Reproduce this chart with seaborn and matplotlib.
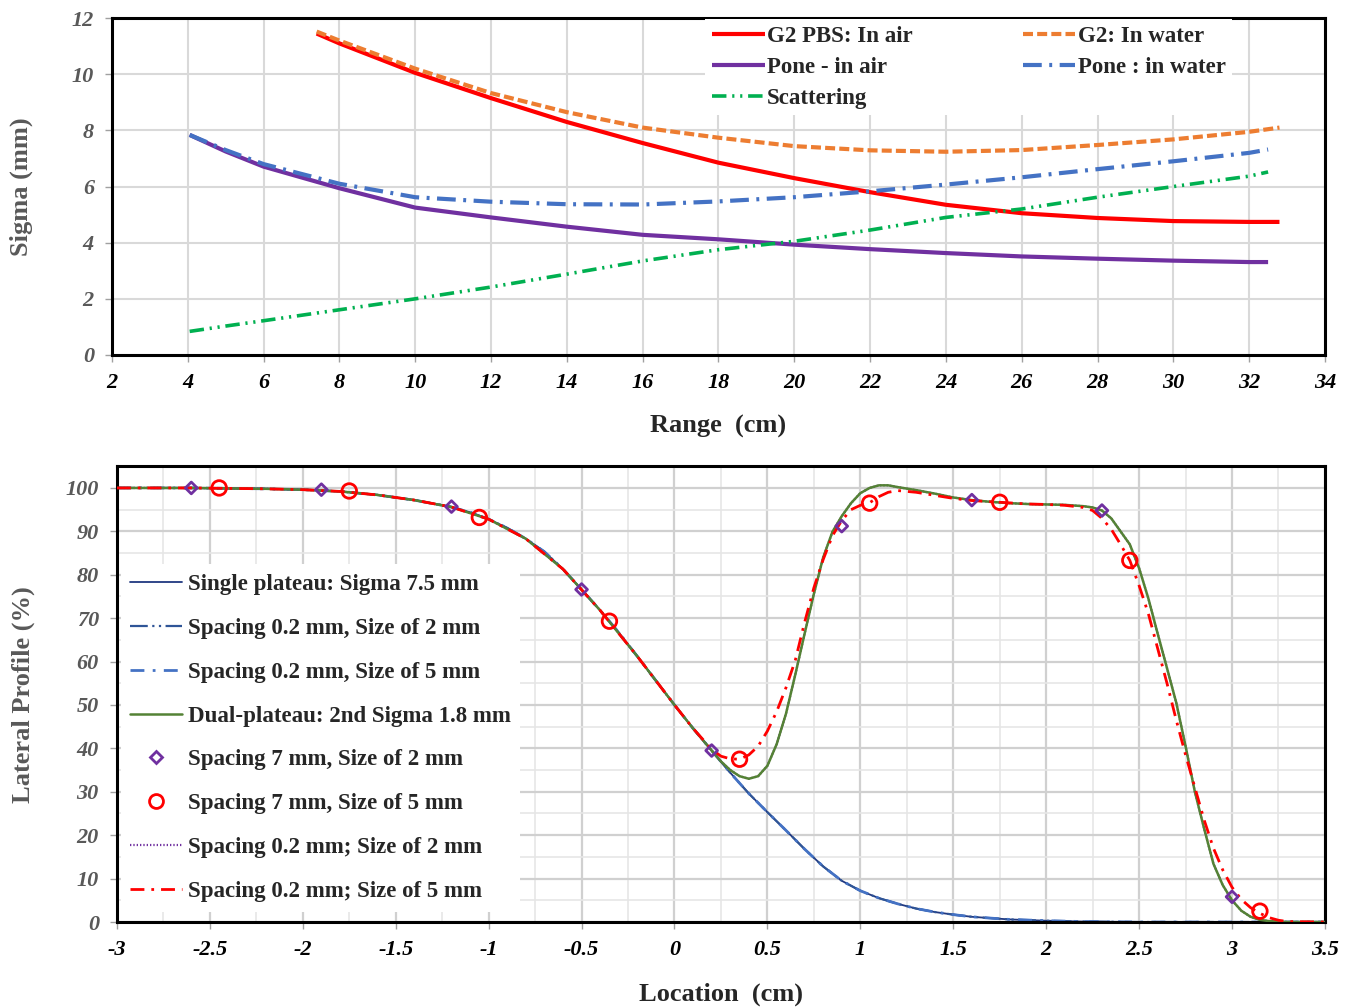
import numpy as np
import pandas as pd
import matplotlib
matplotlib.use("Agg")
import matplotlib.pyplot as plt
from matplotlib.ticker import MultipleLocator, FuncFormatter
from matplotlib.lines import Line2D
import seaborn as sns

# ---- top panel: sigma vs range ----
g2_x = [7.4, 8, 10, 12, 14, 16, 18, 20, 22, 24, 26, 28, 30, 32, 32.8]
g2_air = [11.45, 11.1, 10.05, 9.15, 8.3, 7.55, 6.85, 6.3, 5.8, 5.35, 5.05, 4.88, 4.77, 4.74, 4.74]
g2_water = [11.52, 11.2, 10.2, 9.33, 8.65, 8.1, 7.74, 7.44, 7.29, 7.24, 7.3, 7.48, 7.68, 7.95, 8.1]
pone_x = [4.05, 5, 6, 8, 10, 12, 14, 16, 18, 20, 22, 24, 26, 28, 30, 32, 32.5]
pone_air = [7.84, 7.25, 6.71, 5.94, 5.25, 4.9, 4.57, 4.28, 4.12, 3.93, 3.77, 3.63, 3.51, 3.43, 3.36, 3.31, 3.31]
pone_water = [7.84, 7.3, 6.8, 6.1, 5.62, 5.46, 5.37, 5.36, 5.47, 5.62, 5.83, 6.07, 6.33, 6.62, 6.9, 7.2, 7.32]
scattering = [0.84, 1.03, 1.22, 1.61, 2.0, 2.42, 2.88, 3.35, 3.75, 4.05, 4.45, 4.9, 5.2, 5.62, 6.0, 6.37, 6.52]

# ---- bottom panel: lateral profiles ----
single_x = [-3.0, -2.8, -2.6, -2.4, -2.2, -2.0, -1.8, -1.6, -1.4, -1.2, -1.1, -1.0, -0.9, -0.8,
            -0.7, -0.6, -0.5, -0.4, -0.3, -0.2, -0.1, 0.0, 0.1, 0.2, 0.3, 0.4, 0.5, 0.6, 0.7,
            0.8, 0.9, 1.0, 1.1, 1.2, 1.3, 1.4, 1.5, 1.6, 1.8, 2.0, 2.2, 2.5, 3.0, 3.5]
single_y = [100, 100, 100, 99.9, 99.8, 99.6, 99.2, 98.4, 97.2, 95.6, 94.4, 92.8, 90.8, 88.3,
            85.3, 81.3, 76.6, 71.8, 66.7, 61.2, 55.6, 50.0, 44.6, 39.5, 34.4, 29.6, 25.3, 21.1, 16.8,
            12.8, 9.5, 7.2, 5.5, 4.2, 3.1, 2.3, 1.7, 1.2, 0.6, 0.3, 0.1, 0.0, 0.0, 0.0]

dual_x = [-3.0, -2.6, -2.2, -2.0, -1.8, -1.6, -1.4, -1.2, -1.0, -0.8, -0.6, -0.4, -0.2, 0.0,
          0.1, 0.2, 0.25, 0.3, 0.35, 0.4, 0.45, 0.5, 0.55, 0.6, 0.65, 0.7, 0.75, 0.8, 0.85,
          0.9, 0.95, 1.0, 1.05, 1.1, 1.15, 1.2, 1.3, 1.4, 1.5, 1.6, 1.7, 1.8, 1.9, 2.0, 2.1,
          2.2, 2.25, 2.3, 2.35, 2.4, 2.45, 2.5, 2.55, 2.6, 2.65, 2.7, 2.75, 2.8, 2.85, 2.9,
          2.95, 3.0, 3.05, 3.1, 3.15, 3.2, 3.3, 3.5]
dual_y = [100, 100, 99.8, 99.6, 99.2, 98.4, 97.2, 95.6, 92.8, 88.3, 81.3, 71.8, 61.2, 50.0,
          44.6, 39.5, 37.0, 35.0, 33.6, 33.0, 33.6, 36.0, 41.0, 48.0, 57.0, 66.4, 75.6, 84.0, 89.9,
          93.5, 96.5, 98.8, 100.0, 100.6, 100.6, 100.2, 99.5, 98.7, 97.8, 97.2, 96.8, 96.5, 96.3, 96.2, 96.1,
          95.8, 95.5, 94.8, 93.0, 90.0, 87.0, 81.5, 74.5, 66.4, 58.5, 50.5, 40.5, 30.0, 21.5, 13.4,
          8.5, 5.0, 2.6, 1.2, 0.5, 0.2, 0.0, 0.0]

red5_x = [-3.0, -2.6, -2.2, -2.0, -1.8, -1.6, -1.4, -1.2, -1.0, -0.8, -0.6, -0.4, -0.2, 0.0,
          0.1, 0.2, 0.25, 0.3, 0.35, 0.4, 0.45, 0.5, 0.55, 0.6, 0.65, 0.7, 0.75, 0.8, 0.85,
          0.9, 0.95, 1.0, 1.05, 1.1, 1.15, 1.2, 1.3, 1.4, 1.5, 1.6, 1.75, 1.9, 2.0, 2.1, 2.2,
          2.25, 2.3, 2.35, 2.4, 2.45, 2.5, 2.55, 2.6, 2.65, 2.7, 2.75, 2.8, 2.85, 2.9, 2.95,
          3.0, 3.05, 3.1, 3.15, 3.2, 3.25, 3.3, 3.5]
red5_y = [100, 100, 99.8, 99.6, 99.2, 98.4, 97.2, 95.6, 92.8, 88.3, 81.3, 71.8, 61.2, 50.0,
          44.6, 39.8, 38.2, 37.6, 37.5, 38.5, 40.5, 44.0, 48.5, 54.0, 60.3, 69.0, 77.0, 83.5, 89.0,
          92.5, 95.0, 96.0, 96.6, 98.0, 99.0, 99.4, 99.0, 98.3, 97.6, 97.1, 96.7, 96.3, 96.2, 96.0, 95.5,
          94.8, 93.0, 90.5, 87.0, 83.3, 77.5, 71.0, 63.0, 55.0, 46.5, 38.5, 31.0, 23.5, 17.0, 12.0,
          8.0, 5.2, 3.3, 2.0, 1.0, 0.4, 0.1, 0.0]

diam_x = [-2.6, -1.9, -1.2, -0.5, 0.2, 0.9, 1.6, 2.3, 3.0]
diam_y = [100, 99.6, 95.7, 76.6, 39.5, 91.2, 97.2, 94.8, 5.8]
circ_x = [-2.45, -1.75, -1.05, -0.35, 0.35, 1.05, 1.75, 2.45, 3.15]
circ_y = [100, 99.3, 93.2, 69.3, 37.5, 96.5, 96.7, 83.3, 2.5]

sns.set_style("white")
plt.rcParams['font.family'] = ['Liberation Serif', 'DejaVu Serif']
plt.rcParams['axes.unicode_minus'] = False

fig = plt.figure(figsize=(13.52, 10.07), dpi=100)
ax1 = fig.add_axes([0.0828, 0.6475, 0.8972, 0.3345])
ax2 = fig.add_axes([0.0865, 0.0844, 0.8935, 0.4526])

gray = '#595959'
gridc = '#d9d9d9'
legfont = {'family': 'Liberation Serif', 'weight': 'bold', 'size': 16.5}

# top panel lines
top_series = [
    (g2_x, g2_air, 'G2 PBS: In air', '#ff0000', 3.0, None),
    (g2_x, g2_water, 'G2: In water', '#ed7d31', 3.0, (2.4, 1.0)),
    (pone_x, pone_air, 'Pone - in air', '#7030a0', 3.0, None),
    (pone_x, pone_water, 'Pone : in water', '#4472c4', 3.0, (4.5, 1.8, 0.7, 1.8)),
    (pone_x, scattering, 'Scattering', '#00b050', 2.6, (4.0, 1.6, 0.6, 1.6, 0.6, 1.6)),
]
for xs, ys, lab, col, lw, dash in top_series:
    sns.lineplot(x=xs, y=ys, ax=ax1, color=col, linewidth=lw, label=lab, legend=False)
    ln = ax1.lines[-1]
    if dash is not None:
        ln.set_dashes(dash)
    ln.set_solid_capstyle('butt')

ax1.set_xlim(2, 34)
ax1.set_ylim(0, 12)
ax1.xaxis.set_major_locator(MultipleLocator(2))
ax1.yaxis.set_major_locator(MultipleLocator(2))
ax1.grid(True, color=gridc, linewidth=1.5)
ax1.set_axisbelow(True)
h, l = ax1.get_legend_handles_labels()
order = [0, 2, 4, 1, 3]
ax1.legend([h[i] for i in order], [l[i] for i in order], ncol=2, loc='upper left',
           bbox_to_anchor=(0.488, 1.0), frameon=True, framealpha=1, edgecolor='none',
           fancybox=False, borderaxespad=0.05, borderpad=0.3, handlelength=2.3,
           handletextpad=0.1, columnspacing=4.8, labelspacing=0.42, prop=legfont)
ax1.set_xlabel('Range  (cm)', fontsize=19, fontweight='bold', labelpad=16)
ax1.set_ylabel('Sigma (mm)', fontsize=19, fontweight='bold', color=gray, labelpad=28)

# bottom panel
bottom_lines = [
    (single_x, single_y, 'Single plateau: Sigma 7.5 mm', '#203880', 1.3, None),
    (single_x, single_y, 'Spacing 0.2 mm, Size of 2 mm', '#2f5597', 1.6, (8, 2, 1, 2, 1, 2)),
    (single_x, single_y, 'Spacing 0.2 mm, Size of 5 mm', '#4472c4', 2.0, (5, 3, 1, 3)),
]
for xs, ys, lab, col, lw, dash in bottom_lines:
    sns.lineplot(x=xs, y=ys, ax=ax2, color=col, linewidth=lw, label=lab, legend=False)
    if dash is not None:
        ax2.lines[-1].set_dashes(dash)

sns.lineplot(x=dual_x, y=dual_y, ax=ax2, color='#7030a0', linewidth=1.6,
             label='Spacing 0.2 mm; Size of 2 mm', legend=False)
ax2.lines[-1].set_dashes((0.6, 0.9))
sns.lineplot(x=dual_x, y=dual_y, ax=ax2, color='#548235', linewidth=1.8,
             label='Dual-plateau: 2nd Sigma 1.8 mm', legend=False, zorder=3)
sns.lineplot(x=red5_x, y=red5_y, ax=ax2, color='#ff0000', linewidth=2.0,
             label='Spacing 0.2 mm; Size of 5 mm', legend=False, zorder=4)
ax2.lines[-1].set_dashes((5, 2.5, 1, 2.5))

sns.scatterplot(x=diam_x, y=diam_y, ax=ax2, marker='D', s=36, legend=False, zorder=5)
c = ax2.collections[-1]
c.set_facecolor('none'); c.set_edgecolor('#7030a0'); c.set_linewidth(2)
sns.scatterplot(x=circ_x, y=circ_y, ax=ax2, marker='o', s=110, legend=False, zorder=5)
c = ax2.collections[-1]
c.set_facecolor('none'); c.set_edgecolor('#ff0000'); c.set_linewidth(2)

ax2.set_xlim(-3, 3.5)
ax2.set_ylim(0, 105)
ax2.xaxis.set_major_locator(MultipleLocator(0.5))
ax2.xaxis.set_minor_locator(MultipleLocator(0.25))
ax2.yaxis.set_minor_locator(MultipleLocator(5))
ax2.set_yticks([0, 10, 20, 30, 40, 50, 60, 70, 80, 90, 100])
ax2.xaxis.set_major_formatter(FuncFormatter(lambda v, p: f"{v:g}"))
ax2.grid(True, which='major', color='#d0d0d0', linewidth=1.6)
ax2.grid(True, which='minor', color='#e6e6e6', linewidth=1.2)
ax2.set_axisbelow(True)

handles = [
    Line2D([], [], color='#203880', lw=1.3),
    Line2D([], [], color='#2f5597', lw=1.6, dashes=(8, 2, 1, 2, 1, 2)),
    Line2D([], [], color='#4472c4', lw=2.0, dashes=(5, 3, 1, 3)),
    Line2D([], [], color='#548235', lw=1.8),
    Line2D([], [], ls='none', marker='D', ms=6, mfc='none', mec='#7030a0', mew=2),
    Line2D([], [], ls='none', marker='o', ms=10, mfc='none', mec='#ff0000', mew=2),
    Line2D([], [], color='#7030a0', lw=1.6, dashes=(0.6, 0.9)),
    Line2D([], [], color='#ff0000', lw=2.0, dashes=(5, 2.5, 1, 2.5)),
]
labels = ['Single plateau: Sigma 7.5 mm', 'Spacing 0.2 mm, Size of 2 mm',
          'Spacing 0.2 mm, Size of 5 mm', 'Dual-plateau: 2nd Sigma 1.8 mm',
          'Spacing 7 mm, Size of 2 mm', 'Spacing 7 mm, Size of 5 mm',
          'Spacing 0.2 mm; Size of 2 mm', 'Spacing 0.2 mm; Size of 5 mm']
ax2.legend(handles, labels, loc='lower left', bbox_to_anchor=(0.003, 0.023),
           frameon=True, framealpha=1, edgecolor='none', fancybox=False,
           borderaxespad=0, handlelength=2.3, handletextpad=0.25, labelspacing=1.0,
           prop=legfont)
ax2.set_xlabel('Location  (cm)', fontsize=19, fontweight='bold', labelpad=16)
ax2.set_ylabel('Lateral Profile (%)', fontsize=19, fontweight='bold', color=gray, labelpad=22)

for ax in (ax1, ax2):
    for s in ax.spines.values():
        s.set_visible(True)
        s.set_color('black')
        s.set_linewidth(2.2)
    ax.tick_params(axis='both', which='major', length=5, width=1, color='#a0a0a0',
                   direction='out', labelsize=16, pad=8)
    ax.tick_params(axis='both', which='minor', length=0)
    ax.tick_params(axis='x', bottom=True, labelcolor='black')
    ax.tick_params(axis='y', left=True, labelcolor=gray)
    for t in ax.get_xticklabels() + ax.get_yticklabels():
        t.set_fontweight('bold')
        t.set_fontstyle('italic')

fig.savefig('out.png', dpi=100)
